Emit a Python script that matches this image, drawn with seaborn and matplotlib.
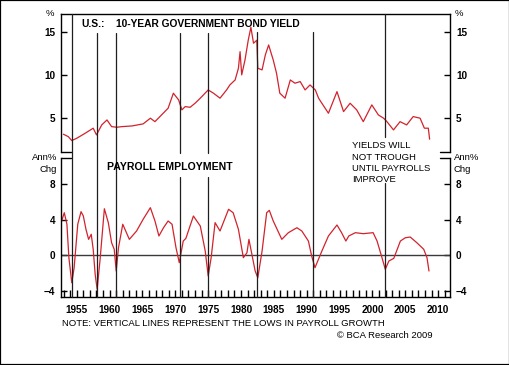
import matplotlib
matplotlib.use("Agg")
import matplotlib.pyplot as plt
import matplotlib.transforms as mtransforms
from matplotlib.patches import Rectangle
from matplotlib.lines import Line2D
from matplotlib.ticker import MultipleLocator
import seaborn as sns
import pandas as pd

# ---------------- data ----------------
yield_years = [1952.96, 1953.7, 1954.24, 1955.0, 1956.3, 1957.5, 1958.0, 1958.8, 1959.6, 1960.3,
               1961.1, 1961.85, 1963.4, 1965.1, 1966.2, 1966.9, 1967.9, 1968.9, 1969.7, 1970.5,
               1971.0, 1971.5, 1972.25, 1973.0, 1973.8, 1975.0, 1975.8, 1976.8, 1977.8, 1978.3,
               1979.1, 1979.6, 1979.85, 1980.1, 1980.6, 1981.1, 1981.5, 1981.9, 1982.4, 1982.55,
               1983.2, 1983.7, 1984.2, 1984.9, 1985.4, 1985.9, 1986.7, 1987.5, 1988.2, 1989.0,
               1989.75, 1990.5, 1991.3, 1991.8, 1992.3, 1993.3, 1994.6, 1995.6, 1996.6, 1997.6,
               1998.6, 1999.9, 2000.9, 2001.7, 2002.2, 2003.2, 2004.2, 2005.2, 2006.2, 2007.25,
               2007.9, 2008.5, 2008.7]
yield_values = [3.07, 2.79, 2.33, 2.6, 3.19, 3.77, 2.99, 4.15, 4.73, 3.95,
                3.88, 3.95, 4.03, 4.27, 4.93, 4.53, 5.31, 6.09, 7.84, 7.06,
                5.9, 6.28, 6.2, 6.67, 7.26, 8.22, 7.84, 7.26, 8.22, 8.8,
                9.38, 10.74, 12.67, 9.97, 11.7, 14.03, 15.5, 13.65, 14.0, 10.74,
                10.55, 12.3, 13.45, 11.7, 10.16, 7.84, 7.26, 9.38, 9.0, 9.19,
                8.22, 8.8, 8.22, 7.26, 6.67, 5.51, 8.02, 5.7, 6.67, 5.9,
                4.53, 6.48, 5.31, 4.93, 4.53, 3.57, 4.53, 4.15, 5.12, 4.93,
                3.77, 3.77, 2.49]

payroll_years = [1952.7, 1953.1, 1953.5, 1953.8, 1954.24, 1954.6, 1955.15, 1955.65, 1956.0, 1956.4,
                 1956.8, 1957.2, 1957.5, 1957.8, 1958.1, 1958.55, 1959.2, 1959.8, 1960.3, 1960.7,
                 1961.0, 1961.35, 1962.0, 1963.0, 1964.1, 1965.1, 1966.2, 1966.9, 1967.5, 1968.2,
                 1968.9, 1969.5, 1970.1, 1970.6, 1971.2, 1971.6, 1972.75, 1973.8, 1974.55, 1975.0,
                 1975.45, 1976.05, 1976.8, 1978.1, 1978.8, 1979.6, 1980.35, 1980.9, 1981.2, 1981.65,
                 1982.15, 1982.55, 1983.2, 1983.9, 1984.3, 1984.9, 1986.2, 1987.2, 1988.5, 1989.25,
                 1990.25, 1990.75, 1991.25, 1992.3, 1993.3, 1994.6, 1995.3, 1995.95, 1996.4, 1997.4,
                 1998.6, 2000.1, 2000.7, 2001.45, 2001.95, 2002.5, 2003.25, 2004.25, 2005.0, 2005.75,
                 2006.75, 2007.8, 2008.3, 2008.6]
payroll_values = [3.87, 4.8, 3.5, -0.27, -3.09, -1.4, 3.5, 4.92, 4.43, 2.93,
                  1.8, 2.37, 0.68, -2.14, -3.83, -0.45, 5.25, 3.68, 1.42, 0.68,
                  -1.77, 0.86, 3.5, 1.8, 2.74, 4.06, 5.37, 3.87, 2.18, 3.11,
                  3.87, 3.5, 0.86, -0.83, 1.61, 1.9, 4.43, 3.3, 0.48, -2.33,
                  -0.27, 3.68, 2.74, 5.19, 4.8, 2.93, -0.27, 0.29, 1.8, 0.11,
                  -1.77, -2.53, 0.48, 4.8, 5.07, 3.87, 1.8, 2.55, 3.11, 2.74,
                  1.61, -0.08, -1.4, 0.48, 2.18, 3.42, 2.55, 1.61, 2.18, 2.55,
                  2.44, 2.55, 1.61, -0.27, -1.58, -0.64, -0.34, 1.61, 1.98, 2.06,
                  1.42, 0.68, -0.27, -1.77]

payroll_lows = [1954.25, 1958.05, 1961.0, 1970.75, 1974.9, 1982.45, 1990.95, 2001.95]

yield_ticks = [5, 10, 15]
payroll_ticks = [-4, 0, 4, 8]
year_ticks = [1955, 1960, 1965, 1970, 1975, 1980, 1985, 1990, 1995, 2000, 2005, 2010]

# ---------------- style ----------------
sns.set_style("white")
plt.rcParams["font.family"] = ["Liberation Sans", "DejaVu Sans"]

W, H = 510, 365
fig = plt.figure(figsize=(W / 100, H / 100), dpi=100)

def fx(px):
    return px / W

def fy(py):
    return 1 - py / H

L, R = 61, 450
ax_top = fig.add_axes([fx(L), fy(152), fx(R) - fx(L), fy(14) - fy(152)])
ax_bot = fig.add_axes([fx(L), fy(297), fx(R) - fx(L), fy(158) - fy(297)])

RED = "#d2232d"
df_y = pd.DataFrame({"year": yield_years, "value": yield_values})
df_p = pd.DataFrame({"year": payroll_years, "value": payroll_values})
sns.lineplot(data=df_y, x="year", y="value", ax=ax_top, color=RED, lw=0.9)
sns.lineplot(data=df_p, x="year", y="value", ax=ax_bot, color=RED, lw=0.9)

XL = (1952.6, 2011.8)
ax_top.set_xlim(*XL)
ax_bot.set_xlim(*XL)
ax_top.set_ylim(1.0, 17.05)
ax_bot.set_ylim(-4.7, 10.97)

ax_bot.axhline(0, color="#3a3a3a", lw=1.0, zorder=1)

for ax in (ax_top, ax_bot):
    ax.set_xlabel("")
    ax.set_ylabel("")
    for s in ax.spines.values():
        s.set_color("black")
        s.set_linewidth(1.0)
    ax.tick_params(axis="y", which="both", direction="in", length=4, width=1,
                   left=True, right=True, labelleft=True, labelright=True,
                   labelsize=7.2, pad=4.3, colors="black")

ax_top.spines["bottom"].set_visible(False)
ax_bot.spines["top"].set_visible(False)
ax_top.set_yticks(yield_ticks)
ax_bot.set_yticks(payroll_ticks)
ax_top.set_xticks([])
ax_bot.set_xticks(year_ticks)
ax_bot.xaxis.set_minor_locator(MultipleLocator(1))
ax_bot.tick_params(axis="x", which="both", direction="in", length=5, width=1,
                   bottom=True, top=False, labelsize=7.2, pad=6, colors="black")
for ax in (ax_top, ax_bot):
    for lab in ax.get_yticklabels() + ax.get_xticklabels():
        lab.set_fontweight("bold")

# corner stubs at the panel break
seg = 10 / (R - L)
for (ax, yv) in ((ax_top, 0.0), (ax_bot, 1.0)):
    ax.plot([0, seg], [yv, yv], transform=ax.transAxes, color="black", lw=1, clip_on=False)
    ax.plot([1 - seg, 1], [yv, yv], transform=ax.transAxes, color="black", lw=1, clip_on=False)

# vertical lines at payroll lows (x in data, y extents in figure pixels)
extents = [
    [(14, 297)],
    [(33, 297)],
    [(33, 297)],
    [(33, 153), (177, 297)],
    [(33, 153), (177, 297)],
    [(32, 297)],
    [(32, 297)],
    [(14, 137), (183, 297)],
]
trans = mtransforms.blended_transform_factory(ax_bot.transData, fig.transFigure)
for xv, segs in zip(payroll_lows, extents):
    for (y0, y1) in segs:
        fig.add_artist(Line2D([xv, xv], [fy(y0), fy(y1)], transform=trans,
                              color="#1e1e1e", lw=0.9))

# texts
bold = dict(fontweight="bold", color="black")
fig.text(fx(81), fy(24), "U.S.:", fontsize=7.4, va="center", ha="left", **bold)
fig.text(fx(116), fy(24), "10-YEAR GOVERNMENT BOND YIELD", fontsize=7.4, va="center", ha="left", **bold)
fig.text(fx(107), fy(167), "PAYROLL EMPLOYMENT", fontsize=7.6, va="center", ha="left", **bold)

norm = dict(color="black", fontsize=6.8, va="center")
for i, line in enumerate(["YIELDS WILL", "NOT TROUGH", "UNTIL PAYROLLS", "IMPROVE"]):
    fig.text(fx(352), fy(146 + 11.2 * i), line, ha="left", **norm)
fig.text(fx(62), fy(323), "NOTE: VERTICAL LINES REPRESENT THE LOWS IN PAYROLL GROWTH", ha="left", **norm)
fig.text(fx(337), fy(336), "\u00a9 BCA Research 2009", ha="left", **norm)

fig.text(fx(50), fy(13), "%", ha="center", **norm)
fig.text(fx(459), fy(13), "%", ha="center", **norm)
fig.text(fx(57), fy(157.5), "Ann%", ha="right", **norm)
fig.text(fx(57), fy(169), "Chg", ha="right", **norm)
fig.text(fx(454), fy(157.5), "Ann%", ha="left", **norm)
fig.text(fx(454), fy(169), "Chg", ha="left", **norm)

# outer frame
fig.add_artist(Rectangle((0, 0), 1, 1, transform=fig.transFigure, fill=False,
                         edgecolor="black", lw=1.6))

fig.savefig("out.png", dpi=100, facecolor="white")
